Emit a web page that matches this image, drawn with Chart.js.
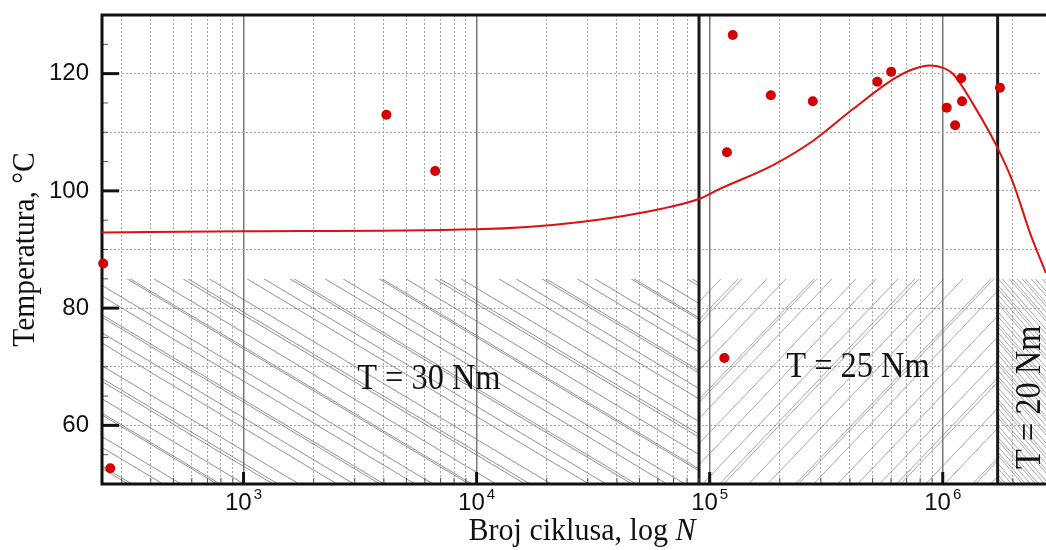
<!DOCTYPE html>
<html>
<head>
<meta charset="utf-8">
<script src="https://cdn.jsdelivr.net/npm/chart.js@4.4.1/dist/chart.umd.min.js"></script>
<style>
  html, body { margin: 0; padding: 0; background: #fff; }
</style>
</head>
<body>
<canvas id="chart" width="1046" height="550"></canvas>
<script>
// measured points (broj ciklusa, temperatura)
const cycles = [250, 268, 4100, 6640, 1.256e5, 1.186e5, 1.156e5, 1.83e5, 2.77e5, 5.24e5, 6.01e5, 1.04e6, 1.13e6, 1.20e6, 1.21e6, 1.76e6];
const temps = [87.6, 52.7, 113.0, 103.4, 126.6, 106.6, 71.5, 116.3, 115.3, 118.6, 120.3, 114.2, 111.2, 119.2, 115.3, 117.6];

// fitted curve
const fitCycles = [247, 1000, 1e4, 2.86e4, 6.3e4, 9.1e4, 1.1e5, 1.87e5, 2.79e5, 4.13e5, 6.14e5, 7.4e5, 8.8e5, 1.0e6, 1.11e6, 1.35e6, 1.71e6, 2.01e6, 2.37e6, 2.77e6];
const fitTemps = [92.9, 93.1, 93.45, 94.75, 97.0, 98.7, 100.3, 104.4, 108.6, 114.0, 119.05, 120.7, 121.4, 121.0, 119.9, 114.8, 107.5, 101.25, 92.8, 86.0];

// axes
const xMin = 247, xMax = 2.64e6;
const yMin = 50, yMax = 130;
const yLabelTicks = [60, 80, 100, 120];
const xLabelDecades = [3, 4, 5, 6];

// torque regions
const torqueBounds = [9e4, 1.72e6];
const torqueLabels = ["T = 30 Nm", "T = 25 Nm", "T = 20 Nm"];
const hatchTop = 85;

const isDecade = v => Math.abs(Math.log10(v) - Math.round(Math.log10(v))) < 1e-9;

const xGridValues = [];
for (let e = 2; e <= 6; e++) {
  for (let m = 1; m <= 9; m++) {
    const v = m * Math.pow(10, e);
    if (v > xMin && v < xMax) xGridValues.push(v);
  }
}

function hatch(ctx, x0, y0, x1, y1, slope, gaps, color) {
  const h = y1 - y0;
  const dx = h / slope;
  const start = Math.min(x0, x0 - dx);
  const end = Math.max(x1, x1 - dx);
  ctx.save();
  ctx.beginPath();
  ctx.rect(x0, y0, x1 - x0, y1 - y0);
  ctx.clip();
  ctx.strokeStyle = color;
  ctx.lineWidth = 1;
  ctx.beginPath();
  let i = 0;
  for (let c = start; c < end; c += gaps[i++ % gaps.length]) {
    ctx.moveTo(c, y0);
    ctx.lineTo(c + dx, y1);
  }
  ctx.stroke();
  ctx.restore();
}

function text(ctx, str, x, y, font, align, rot, sx) {
  ctx.save();
  ctx.translate(x, y);
  if (rot) ctx.rotate(rot);
  ctx.scale(sx || 1, 1);
  ctx.font = font;
  ctx.textAlign = align || "center";
  ctx.textBaseline = "alphabetic";
  ctx.fillStyle = "#111";
  ctx.fillText(str, 0, 0);
  ctx.restore();
}

const decor = {
  id: "decor",
  beforeDatasetsDraw(chart) {
    const { ctx, chartArea: a, scales: { x, y } } = chart;
    const yt = y.getPixelForValue(hatchTop);
    const xb = torqueBounds.map(v => x.getPixelForValue(v));
    const right = chart.width;

    // hatched zones
    hatch(ctx, a.left, yt, xb[0], a.bottom, 0.6, [26, 4, 31, 18, 36, 3, 24, 29, 5, 21, 38, 17], "rgba(110,110,110,0.75)");
    hatch(ctx, xb[0], yt, xb[1], a.bottom, -1.05, [22, 17, 4, 25, 19, 28, 3, 15, 24, 20], "rgba(110,110,110,0.6)");
    hatch(ctx, xb[1], yt, right, a.bottom, 1.15, [5, 3, 6, 4, 7, 3, 5], "rgba(110,110,110,0.6)");

    // region labels
    text(ctx, torqueLabels[0], x.getPixelForValue(6240), y.getPixelForValue(66.2), "36px 'Liberation Serif'", "center", 0, 0.9);
    text(ctx, torqueLabels[1], x.getPixelForValue(4.33e5), y.getPixelForValue(68.3), "36px 'Liberation Serif'", "center", 0, 0.9);
    text(ctx, torqueLabels[2], x.getPixelForValue(2.62e6), y.getPixelForValue(64.8), "36px 'Liberation Serif'", "center", -Math.PI / 2, 0.9);

    // region boundaries
    ctx.save();
    ctx.strokeStyle = "#1a1a1a";
    ctx.lineWidth = 3;
    ctx.beginPath();
    xb.forEach(px => { ctx.moveTo(px, a.top); ctx.lineTo(px, a.bottom); });
    ctx.stroke();

    // inward ticks
    x.ticks.forEach(t => {
      const px = x.getPixelForValue(t.value);
      const major = isDecade(t.value);
      ctx.lineWidth = major ? 3 : 1;
      ctx.strokeStyle = major ? "#111" : "#555";
      ctx.beginPath();
      ctx.moveTo(px, a.bottom);
      ctx.lineTo(px, a.bottom - (major ? 12 : 6));
      ctx.stroke();
    });
    for (let v = yMin + 5; v < yMax; v += 5) {
      const py = y.getPixelForValue(v);
      const major = yLabelTicks.includes(v);
      ctx.lineWidth = major ? 3 : 1;
      ctx.strokeStyle = major ? "#111" : "#555";
      ctx.beginPath();
      ctx.moveTo(a.left, py);
      ctx.lineTo(a.left + (major ? 17 : 6), py);
      ctx.stroke();
    }

    // frame
    ctx.strokeStyle = "#111";
    ctx.lineWidth = 3;
    ctx.beginPath();
    ctx.moveTo(right, a.top);
    ctx.lineTo(a.left, a.top);
    ctx.lineTo(a.left, a.bottom);
    ctx.lineTo(right, a.bottom);
    ctx.stroke();
    ctx.restore();
  },
  afterDraw(chart) {
    const { ctx, chartArea: a, scales: { x } } = chart;
    // x tick labels 10^n
    ctx.save();
    ctx.fillStyle = "#111";
    ctx.textBaseline = "alphabetic";
    ctx.textAlign = "left";
    xLabelDecades.forEach(e => {
      const px = x.getPixelForValue(Math.pow(10, e));
      ctx.font = "24px 'Liberation Sans'";
      const wb = ctx.measureText("10").width;
      ctx.font = "15px 'Liberation Sans'";
      const we = ctx.measureText(String(e)).width;
      const x0 = px - (wb + 2 + we) / 2;
      ctx.font = "24px 'Liberation Sans'";
      ctx.fillText("10", x0, 510);
      ctx.font = "15px 'Liberation Sans'";
      ctx.fillText(String(e), x0 + wb + 2, 499);
    });
    ctx.restore();

    // axis titles
    text(ctx, "Temperatura, °C", 34, (a.top + a.bottom) / 2, "31px 'Liberation Serif'", "center", -Math.PI / 2, 0.95);
    ctx.save();
    const sx = 0.97;
    ctx.font = "31px 'Liberation Serif'";
    const w1 = ctx.measureText("Broj ciklusa, log ").width * sx;
    ctx.font = "italic 31px 'Liberation Serif'";
    const w2 = ctx.measureText("N").width * sx;
    const xs = 582 - (w1 + w2) / 2;
    ctx.restore();
    text(ctx, "Broj ciklusa, log ", xs, 540, "31px 'Liberation Serif'", "left", 0, sx);
    text(ctx, "N", xs + w1, 540, "italic 31px 'Liberation Serif'", "left", 0, sx);
  }
};

new Chart(document.getElementById("chart"), {
  type: "scatter",
  data: {
    datasets: [
      {
        data: fitCycles.map((c, i) => ({ x: c, y: fitTemps[i] })),
        showLine: true,
        borderColor: "#dd1111",
        borderWidth: 2,
        pointRadius: 0,
        cubicInterpolationMode: "monotone",
        clip: { left: 0, top: 0, right: 10, bottom: 0 },
        order: 2
      },
      {
        data: cycles.map((c, i) => ({ x: c, y: temps[i] })),
        backgroundColor: "#d40000",
        borderWidth: 0,
        pointRadius: 5,
        clip: false,
        order: 1
      }
    ]
  },
  options: {
    responsive: false,
    animation: false,
    devicePixelRatio: 1,
    layout: { padding: { top: 15, left: 0, right: 0, bottom: 0 } },
    plugins: { legend: { display: false }, tooltip: { enabled: false } },
    scales: {
      x: {
        type: "logarithmic",
        min: xMin,
        max: xMax,
        afterBuildTicks: s => { s.ticks = xGridValues.map(v => ({ value: v })); },
        afterFit: s => { s.height = 66; s.paddingLeft = 0; s.paddingRight = 0; },
        ticks: { display: false },
        grid: {
          drawTicks: false,
          color: c => isDecade(c.tick.value) ? "#7a7a7a" : "#a6a6a6",
          lineWidth: c => isDecade(c.tick.value) ? 1.5 : 1
        },
        border: { display: false, dash: c => isDecade(c.tick.value) ? [] : [2, 2] }
      },
      y: {
        min: yMin,
        max: yMax,
        afterFit: s => { s.width = 102; s.paddingTop = 0; s.paddingBottom = 0; },
        ticks: {
          stepSize: 5,
          padding: 13,
          color: "#111",
          font: { family: "'Liberation Sans'", size: 24 },
          callback: v => yLabelTicks.includes(v) ? String(v) : ""
        },
        grid: { drawTicks: false, color: "#a6a6a6", lineWidth: 1 },
        border: { display: false, dash: [2, 2] }
      }
    }
  },
  plugins: [decor]
});
</script>
</body>
</html>
